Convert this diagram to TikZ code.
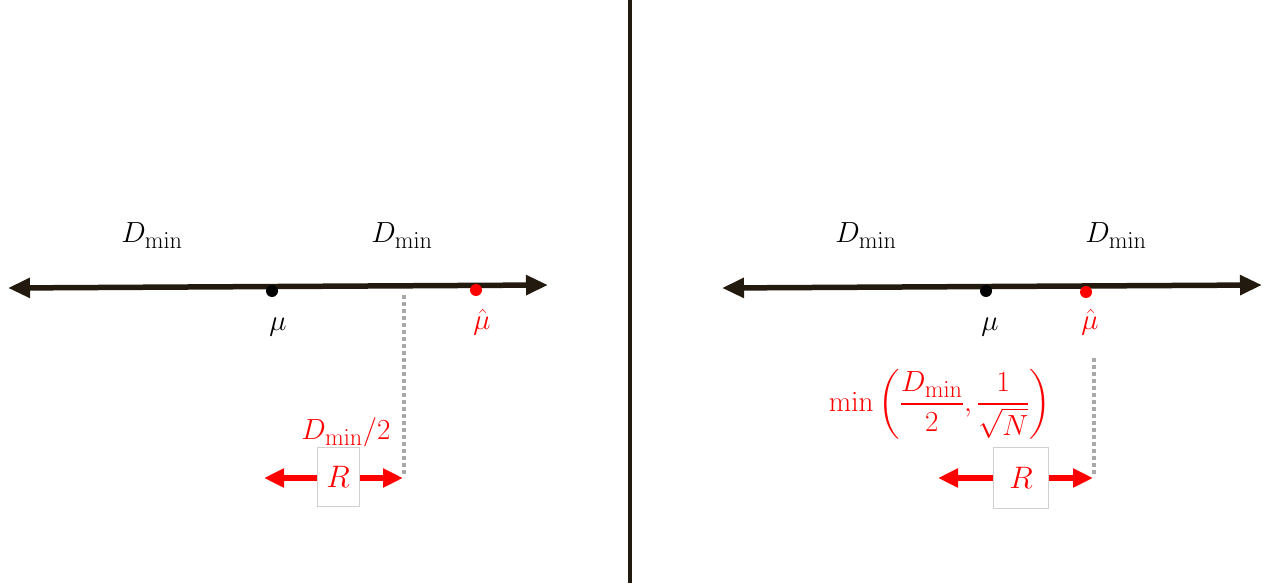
\documentclass[tikz,border=0pt]{standalone}
\usepackage{amsmath}
\usepackage{graphicx}
\usetikzlibrary{arrows.meta}
\definecolor{axiscol}{HTML}{231A0F}
\definecolor{dotgray}{HTML}{A9A9A9}
\definecolor{boxgray}{HTML}{D0D0D0}
\newcommand{\mybig}[1]{\scalebox{1.17}{\Huge #1}}
\newcommand{\mybigR}[1]{\scalebox{1.25}{\Huge #1}}
\begin{document}
\begin{tikzpicture}[x=1pt,y=-1pt,
  axis/.style={line width=5.5pt,draw=axiscol,{Triangle[length=22pt,width=19pt]}-{Triangle[length=22pt,width=19pt]}},
  redarr/.style={line width=6pt,draw=red,{Triangle[length=20pt,width=18pt]}-{Triangle[length=20pt,width=18pt]}},
  guide/.style={line width=4pt,draw=dotgray,dash pattern=on 4pt off 3pt},
  lbl/.style={inner sep=0pt},
  rlbl/.style={lbl,text=red},
  rbox/.style={draw=boxgray,line width=0.8pt,fill=white,text=red,inner sep=0pt},
  bdot/.style={circle,fill=black,inner sep=0pt,minimum size=12pt},
  rdot/.style={circle,fill=red,inner sep=0pt,minimum size=12pt}]
\useasboundingbox (0,0) rectangle (1275,588);
% divider
\coordinate (vt) at (630,0);
\coordinate (vb) at (630,583);
\draw[line width=4pt,draw=axiscol] (vt) -- (vb);
% ---------- left ----------
\coordinate (la) at (8,288);
\coordinate (lb) at (548,285);
\draw[axis] (la) -- (lb);
\node[lbl] (ld1) at (152,236) {\mybig{$D_{\mathrm{min}}$}};
\node[lbl] (ld2) at (402,236) {\mybig{$D_{\mathrm{min}}$}};
\node[bdot] (lmu) at (272,291) {};
\node[rdot] (lmuh) at (476,290) {};
\node[lbl] (lmut) at (278,327) {\mybig{$\mu$}};
\node[rlbl] (lmuht) at (482,322) {\mybig{$\hat{\mu}$}};
\coordinate (lg1) at (404,295);
\coordinate (lg2) at (404,477);
\draw[guide] (lg1) -- (lg2);
\node[rlbl] (lhalf) at (346,432) {\mybig{$D_{\mathrm{min}}/2$}};
\coordinate (lr1) at (264,478);
\coordinate (lr2) at (403,478);
\draw[redarr] (lr1) -- (lr2);
\node[rbox,minimum width=42pt,minimum height=59pt] (lR) at (338,476.5) {\mybigR{$R$}};
% ---------- right ----------
\coordinate (ra) at (722,288);
\coordinate (rb) at (1262,285);
\draw[axis] (ra) -- (rb);
\node[lbl] (rd1) at (866,236) {\mybig{$D_{\mathrm{min}}$}};
\node[lbl] (rd2) at (1116,236) {\mybig{$D_{\mathrm{min}}$}};
\node[bdot] (rmu) at (986,291) {};
\node[rdot] (rmuh) at (1086,292) {};
\node[lbl] (rmut) at (990,327) {\mybig{$\mu$}};
\node[rlbl] (rmuht) at (1090,322) {\mybig{$\hat{\mu}$}};
\coordinate (rg1) at (1094,358);
\coordinate (rg2) at (1094,477);
\draw[guide] (rg1) -- (rg2);
\node[rlbl] (rmin) at (940,404) {\mybig{$\mathrm{min}\left(\dfrac{D_{\mathrm{min}}}{2},\dfrac{1}{\sqrt{N}}\right)$}};
\coordinate (rr1) at (938,478);
\coordinate (rr2) at (1093,478);
\draw[redarr] (rr1) -- (rr2);
\node[rbox,minimum width=55pt,minimum height=61pt] (rR) at (1021,477.5) {\mybigR{$R$}};
\end{tikzpicture}
\end{document}
